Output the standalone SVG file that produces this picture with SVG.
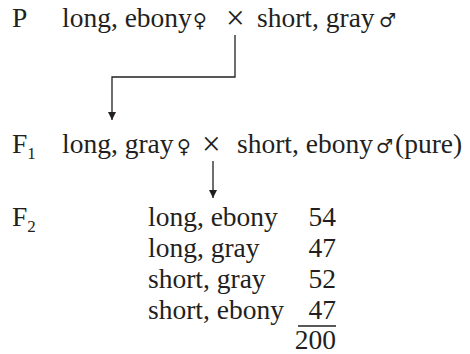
<svg xmlns="http://www.w3.org/2000/svg" width="470" height="354" viewBox="0 0 470 354">
<style>
text{font-family:"Liberation Serif","DejaVu Serif",serif;font-size:27.5px;fill:#231f20}
.sym{font-family:"DejaVu Sans",sans-serif;font-size:19px}
.x{font-size:33px}
.sub{font-size:17px}
.num{text-anchor:end}
.ln{stroke:#231f20;stroke-width:1.3;fill:none}
</style>
<defs>
<marker id="ah" viewBox="0 0 10 10" refX="10" refY="5" markerWidth="8" markerHeight="8" markerUnits="userSpaceOnUse" orient="auto">
<path d="M0,0 L10,5 L0,10 Z" fill="#231f20"/>
</marker>
</defs>
<g id="P">
<text x="12" y="27">P</text>
<text x="62" y="27">long, ebony</text>
<text x="193" y="27" class="sym">♀</text>
<text x="226" y="29" class="x">×</text>
<text x="257" y="27">short, gray</text>
<text x="379" y="27" class="sym">♂</text>
</g>
<g id="F1">
<text x="12" y="153">F<tspan class="sub" dy="6">1</tspan></text>
<text x="62" y="153">long, gray</text>
<text x="177" y="153" class="sym">♀</text>
<text x="202" y="155" class="x">×</text>
<text x="237" y="153">short, ebony</text>
<text x="376" y="153" class="sym">♂</text>
<text x="395" y="153">(pure)</text>
</g>
<g id="F2">
<text x="12" y="226">F<tspan class="sub" dy="6">2</tspan></text>
<text x="148" y="226">long, ebony</text>
<text x="148" y="257">long, gray</text>
<text x="148" y="288">short, gray</text>
<text x="148" y="319">short, ebony</text>
<text x="336" y="226" class="num">54</text>
<text x="336" y="257" class="num">47</text>
<text x="336" y="288" class="num">52</text>
<text x="336" y="319" class="num">47</text>
<text x="336" y="349" class="num">200</text>
<line x1="298" y1="326" x2="336" y2="326" class="ln"/>
</g>
<g id="connectors">
<path d="M235,35 V77 H112 V120" class="ln" marker-end="url(#ah)"/>
<path d="M213,161 V198" class="ln" marker-end="url(#ah)"/>
</g>
</svg>
